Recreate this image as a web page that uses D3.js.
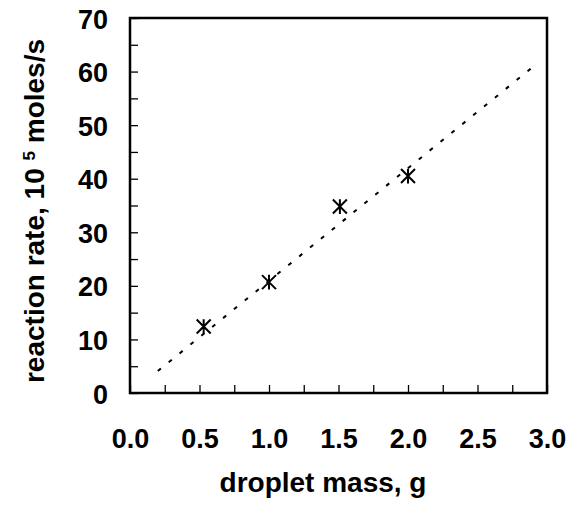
<!DOCTYPE html>
<html>
<head>
<meta charset="utf-8">
<script src="https://cdn.jsdelivr.net/npm/d3@7"></script>
<style>
  body { margin: 0; background: #fff; }
  svg text { font-family: "Liberation Sans", Arial, sans-serif; font-weight: bold; fill: #000; }
</style>
</head>
<body>
<div id="chart"></div>
<script>
// measured points
var massValues = [0.53, 1.0, 1.51, 2.0];
var rateValues = [12.4, 20.7, 34.8, 40.5];
// dotted trend line end points
var trendMass = [0.2, 2.9];
var trendRate = [4.1, 60.9];
var xTickValues = [0, 0.25, 0.5, 0.75, 1, 1.25, 1.5, 1.75, 2, 2.25, 2.5, 2.75, 3];
var yTickValues = [0, 5, 10, 15, 20, 25, 30, 35, 40, 45, 50, 55, 60, 65, 70];

var margin = { top: 18, right: 24, bottom: 119, left: 130 },
    width = 571 - margin.left - margin.right,
    height = 512 - margin.top - margin.bottom;

var svg = d3.select('#chart')
    .append('svg')
    .attr('width', 571)
    .attr('height', 512)
    .append('g')
    .attr('transform', 'translate(' + margin.left + ',' + margin.top + ')');

var x = d3.scaleLinear().domain([0, 3]).range([0, width]);
var y = d3.scaleLinear().domain([0, 70]).range([height, 0]);

// x axis, ticks point inward
var xAxis = svg.append('g')
    .attr('transform', 'translate(0,' + height + ')')
    .call(d3.axisBottom(x)
        .tickValues(xTickValues)
        .tickSizeInner(-8)
        .tickSizeOuter(0)
        .tickPadding(36)
        .tickFormat(function(d) {
            return (Math.round(d * 100) % 50 === 0) ? d3.format('.1f')(d) : '';
        }));

var yAxis = svg.append('g')
    .call(d3.axisLeft(y)
        .tickValues(yTickValues)
        .tickSizeInner(-8)
        .tickSizeOuter(0)
        .tickPadding(22)
        .tickFormat(function(d) {
            return d % 10 === 0 ? d : '';
        }));

[xAxis, yAxis].forEach(function(a) {
    a.select('.domain').remove();
    a.selectAll('line').attr('stroke', '#000').attr('stroke-width', 1.3);
    a.selectAll('text')
        .style('font-size', '27px')
        .style('font-family', '"Liberation Sans", Arial, sans-serif')
        .style('font-weight', 'bold');
});
yAxis.selectAll('text').attr('dy', '0.37em');

// plot frame
svg.append('rect')
    .attr('width', width)
    .attr('height', height)
    .attr('fill', 'none')
    .attr('stroke', '#000')
    .attr('stroke-width', 2.5);

// trend line
var line = d3.line()
    .x(function(d) { return x(d[0]); })
    .y(function(d) { return y(d[1]); });

svg.append('path')
    .datum(d3.zip(trendMass, trendRate))
    .attr('d', line)
    .attr('fill', 'none')
    .attr('stroke', '#000')
    .attr('stroke-width', 2)
    .attr('stroke-dasharray', '4,10');

// asterisk marker: an X with a vertical bar
var starSymbol = {
    draw: function(context, size) {
        var r = Math.sqrt(size) / 2;
        context.moveTo(-r, -r); context.lineTo(r, r);
        context.moveTo(-r, r); context.lineTo(r, -r);
        context.moveTo(0, -r * 1.05); context.lineTo(0, r * 1.05);
    }
};

svg.append('g')
    .selectAll('path')
    .data(d3.zip(massValues, rateValues))
    .enter()
    .append('path')
    .attr('transform', function(d) { return 'translate(' + x(d[0]) + ',' + y(d[1]) + ')'; })
    .attr('d', d3.symbol().type(starSymbol).size(196))
    .attr('fill', 'none')
    .attr('stroke', '#000')
    .attr('stroke-width', 2);

// axis titles
svg.append('text')
    .attr('text-anchor', 'middle')
    .attr('x', 193)
    .attr('y', 474)
    .style('font-size', '28px')
    .text('droplet mass, g');

var yTitle = svg.append('text')
    .attr('text-anchor', 'middle')
    .attr('transform', 'translate(-86,193) rotate(-90)')
    .style('font-size', '28px');
yTitle.append('tspan').text('reaction rate, 10 ');
yTitle.append('tspan').attr('dy', -9).style('font-size', '17px').text('5');
yTitle.append('tspan').attr('dy', 9).text(' moles/s');
</script>
</body>
</html>
